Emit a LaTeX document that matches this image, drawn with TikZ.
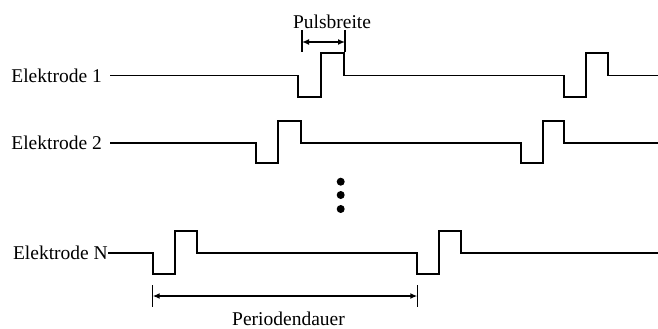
\documentclass[tikz,border=0pt]{standalone}
\usepackage{fontspec}
\setmainfont{Liberation Serif}
\usetikzlibrary{arrows.meta}
\begin{document}
\begin{tikzpicture}[x=1pt,y=-1pt,
  wave/.style={line width=1.7pt,line join=miter},
  lbl/.style={inner sep=0pt,anchor=east,font=\fontsize{19.5}{23}\selectfont},
  txt/.style={inner sep=0pt,font=\fontsize{19.5}{23}\selectfont},
  dim/.style={line width=1.5pt,{Latex[length=7pt,width=6pt]}-{Latex[length=7pt,width=6pt]}},
  bar/.style={line width=1.5pt},
  dotmark/.style={circle,fill=black,inner sep=0pt,minimum size=8pt}]
\useasboundingbox (0,0) rectangle (658,329);
% labels
\node[lbl] (e1) at (102,75.5) {Elektrode 1};
\node[lbl] (e2) at (102,142.7) {Elektrode 2};
\node[lbl] (en) at (108,252.7) {Elektrode N};
% waveforms
\draw[wave] (110,75.5) -- (298.3,75.5) -- (298.3,96.7) -- (321,96.7) -- (321,53.3) -- (344,53.3) -- (344,75.5)
  -- (564,75.5) -- (564,96.7) -- (585.7,96.7) -- (585.7,53.3) -- (607.7,53.3) -- (607.7,75.5) -- (658,75.5);
\draw[wave] (110,142.7) -- (256,142.7) -- (256,163.3) -- (278.3,163.3) -- (278.3,120.7) -- (300.7,120.7) -- (300.7,142.7)
  -- (520.7,142.7) -- (520.7,163.3) -- (543.3,163.3) -- (543.3,120.7) -- (564.3,120.7) -- (564.3,142.7) -- (658,142.7);
\draw[wave] (en.east) -- (152.7,252.7) -- (152.7,274) -- (174.7,274) -- (174.7,230.7) -- (196.7,230.7) -- (196.7,252.7)
  -- (417.3,252.7) -- (417.3,274) -- (439.3,274) -- (439.3,230.7) -- (461,230.7) -- (461,252.7) -- (658,252.7);
% dots
\node[dotmark] (d1) at (340.7,181.7) {};
\node[dotmark] (d2) at (340.7,195) {};
\node[dotmark] (d3) at (340.7,209) {};
% Pulsbreite
\coordinate (pa) at (302,42);
\coordinate (pb) at (345,42);
\draw[bar] (302,30) -- (302,52);
\draw[bar] (345,30) -- (345,52);
\draw[dim] (pa) -- (pb);
\node[txt] (pw) at (332,22) {Pulsbreite};
% Periodendauer
\coordinate (qa) at (152.7,296);
\coordinate (qb) at (417.3,296);
\draw[bar] (152.7,285) -- (152.7,306.7);
\draw[bar] (417.3,285) -- (417.3,306.7);
\draw[dim] (qa) -- (qb);
\node[txt] (pd) at (288.5,318.5) {Periodendauer};
\end{tikzpicture}
\end{document}
